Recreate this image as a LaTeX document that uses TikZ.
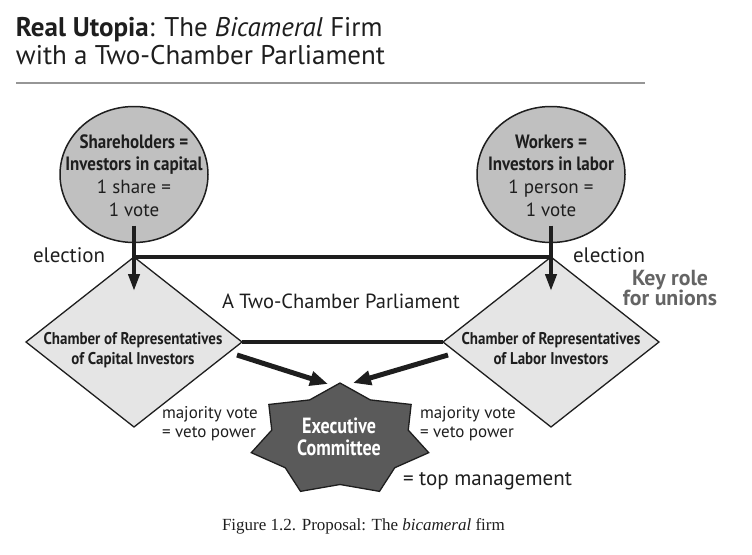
\documentclass[tikz,border=0pt]{standalone}
\usepackage{fontspec}
\setmainfont{PT Sans}
\newfontfamily\condfont[FakeStretch=0.88]{PT Sans}
\newfontfamily\execfont[FakeStretch=0.82]{PT Sans}
\newfontfamily\capfont{Liberation Serif}
\usetikzlibrary{shapes.geometric,arrows.meta,calc}
\definecolor{circgray}{RGB}{192,192,192}
\definecolor{diagray}{RGB}{229,229,229}
\definecolor{stargray}{RGB}{90,90,90}
\definecolor{keygray}{RGB}{100,100,100}
\definecolor{rulegray}{RGB}{150,150,150}
\definecolor{ink}{RGB}{30,30,30}
\tikzset{
  txt/.style={inner sep=0pt, outer sep=0pt, anchor=base, text=ink},
  party/.style={ellipse, draw=ink, line width=1.5pt, fill=circgray, minimum width=148pt, minimum height=136pt, inner sep=0pt, outer sep=0pt},
  chamber/.style={diamond, draw=ink, line width=1.3pt, fill=diagray, minimum width=216pt, minimum height=170pt, inner sep=0pt, outer sep=0pt},
  link/.style={draw=ink, line width=4pt},
  elect/.style={draw=ink, line width=4pt, -{Triangle[length=17pt,width=11pt]}},
  toexec/.style={draw=ink, line width=5pt, -{Triangle[length=18pt,width=14pt]}},
  execstar/.style={draw=ink, line width=1.3pt, fill=stargray, line join=miter},
  bold/.style={font=\condfont\bfseries\fontsize{19.3}{22}\selectfont},
  plain/.style={font=\fontsize{19}{22}\selectfont},
  chtxt/.style={font=\condfont\bfseries\fontsize{17}{20}\selectfont},
  note/.style={font=\fontsize{17}{20}\selectfont},
  big/.style={font=\fontsize{21}{24}\selectfont},
}
\begin{document}
\begin{tikzpicture}[x=1pt,y=-1pt]
\useasboundingbox (0,0) rectangle (752,554);
% title
\node[txt, anchor=base west, font=\fontsize{27}{30}\selectfont] (t1) at (16,36) {\textbf{Real Utopia}: The \textit{Bicameral} Firm};
\node[txt, anchor=base west, font=\fontsize{27}{30}\selectfont] (t2) at (16,64) {with a Two-Chamber Parliament};
\coordinate (r1) at (16,83);
\coordinate (r2) at (645,83);
\draw[rulegray, line width=2.5pt] (r1) -- (r2);

% shapes
\node[party] (sh) at (134,174.5) {};
\node[party] (wk) at (551,174.5) {};
\node[chamber] (ch1) at (134,342) {};
\node[chamber] (ch2) at (551,342) {};

% circle texts
\node[txt, bold] (sh1) at (134,148) {Shareholders =};
\node[txt, bold] (sh2) at (134,170) {Investors in capital};
\node[txt, plain] (sh3) at (134,193) {1 share =};
\node[txt, plain] (sh4) at (134,216) {1 vote};
\node[txt, bold] (wk1) at (551,148) {Workers =};
\node[txt, bold] (wk2) at (551,170) {Investors in labor};
\node[txt, plain] (wk3) at (551,193) {1 person =};
\node[txt, plain] (wk4) at (551,216) {1 vote};

% chamber texts
\node[txt, chtxt] (c1a) at (133,344) {Chamber of Representatives};
\node[txt, chtxt] (c1b) at (133,364) {of Capital Investors};
\node[txt, chtxt] (c2a) at (551,344) {Chamber of Representatives};
\node[txt, chtxt] (c2b) at (551,364) {of Labor Investors};

% links
\draw[link] (ch1.north) -- (ch2.north);
\draw[link] (ch1.east) -- (ch2.west);
\draw[elect] ([yshift=17pt]sh.south) -- ($(ch1.north)!0.4!(ch1.center)$);
\draw[elect] ([yshift=17pt]wk.south) -- ($(ch2.north)!0.4!(ch2.center)$);

% executive star
\coordinate (ex) at (340,440);
\draw[execstar] ($(ex)+(90:91pt and 57pt)$)
  \foreach \k [evaluate=\k as \rx using {mod(\k,2)==0?91:70}, evaluate=\k as \ry using {mod(\k,2)==0?57:44.5}] in {1,...,13} { -- ($(ex)+({90+\k*360/14}:\rx pt and \ry pt)$) } -- cycle;
\coordinate (apex) at ($(ex)+(90:91pt and 57pt)$);
\node[txt, font=\execfont\bfseries\fontsize{22}{26}\selectfont, text=white] (e1) at (339,433) {Executive};
\node[txt, font=\execfont\bfseries\fontsize{22}{26}\selectfont, text=white] (e2) at (339,455) {Committee};

\draw[toexec] ([xshift=-5pt,yshift=-13pt]ch1.east) -- ([xshift=-12pt,yshift=-1pt]apex);
\draw[toexec] ([xshift=5pt,yshift=-13pt]ch2.west) -- ([xshift=13pt,yshift=0pt]apex);

% labels
\node[txt, big, anchor=base west] (el1) at (33,262) {election};
\node[txt, big, anchor=base west] (el2) at (573,262) {election};
\node[txt, font=\bfseries\fontsize{21.8}{24}\selectfont, text=keygray] (k1) at (670,285) {Key role};
\node[txt, font=\bfseries\fontsize{21.8}{24}\selectfont, text=keygray] (k2) at (670,305) {for unions};
\node[txt, font=\fontsize{20.5}{24}\selectfont, anchor=base west] (par) at (222,308) {A Two-Chamber Parliament};
\node[txt, note, anchor=base west] (m1) at (162,418) {majority vote};
\node[txt, note, anchor=base west] (m2) at (162,437) {= veto power};
\node[txt, note, anchor=base west] (m3) at (420,418) {majority vote};
\node[txt, note, anchor=base west] (m4) at (420,437) {= veto power};
\node[txt, big, anchor=base west] (tm) at (403,485) {= top management};
\node[txt, anchor=base west, font=\capfont\fontsize{17}{20}\selectfont] (cap) at (222,530) {Figure 1.2. Proposal: The \textit{bicameral} firm};
\end{tikzpicture}
\end{document}
